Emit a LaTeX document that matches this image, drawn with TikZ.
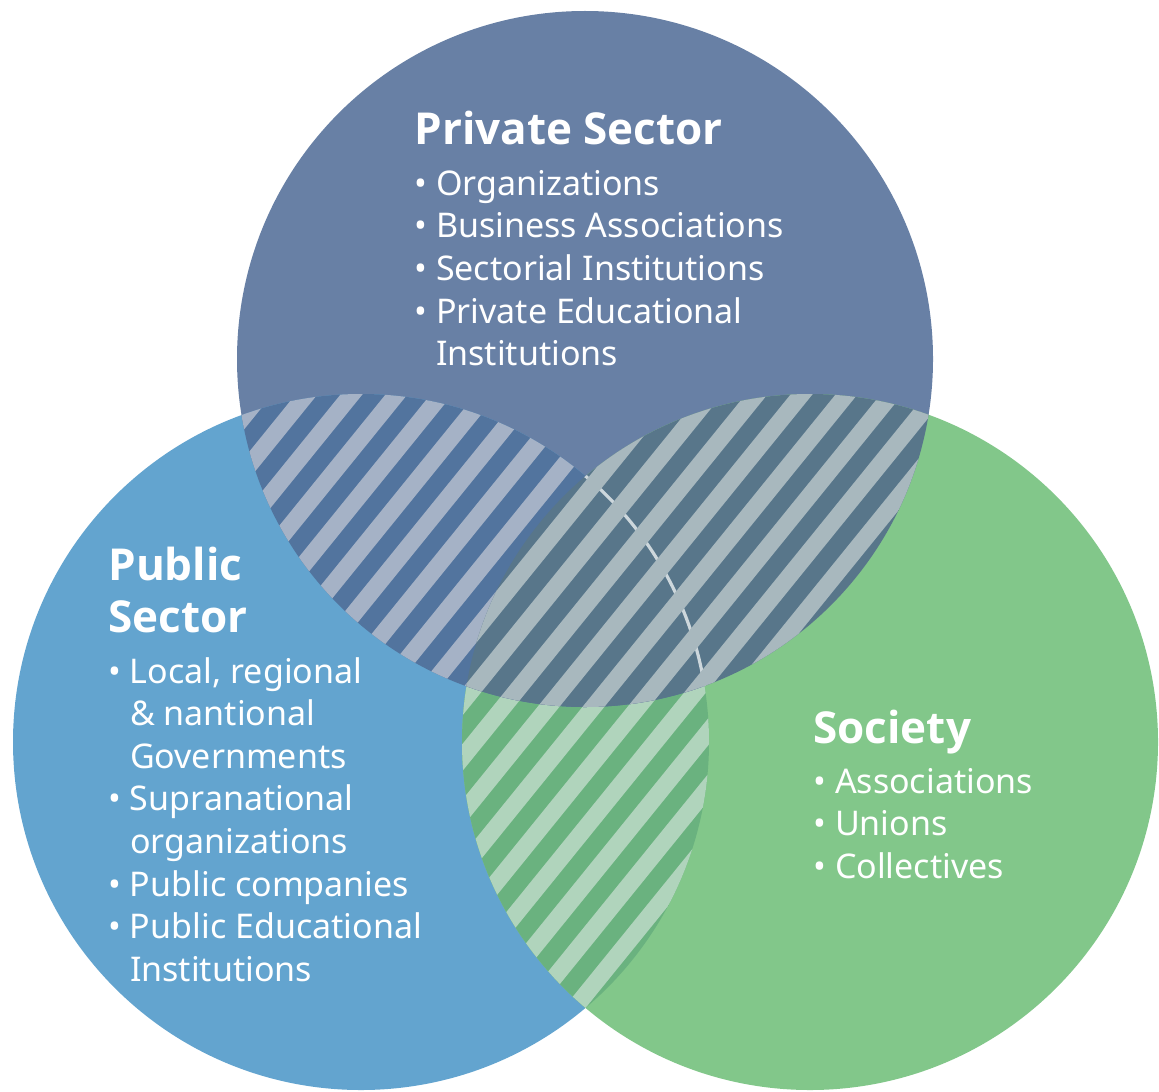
\documentclass[tikz,border=0pt]{standalone}
\usepackage{fontspec}
\setmainfont{Noto Sans}
\newfontfamily\headfont{Open Sans}
\definecolor{cPriv}{RGB}{104,128,165}
\definecolor{cPub} {RGB}{99,164,207}
\definecolor{cSoc} {RGB}{130,199,138}
\definecolor{cPrivPubDark} {RGB}{82,116,158}
\definecolor{cPrivPubLight}{RGB}{165,178,198}
\definecolor{cPrivSocDark} {RGB}{88,118,138}
\definecolor{cPrivSocLight}{RGB}{168,184,190}
\definecolor{cPubSocDark}  {RGB}{106,178,127}
\definecolor{cPubSocLight} {RGB}{176,212,188}
\definecolor{cSeam}        {RGB}{205,215,220}
\newcommand{\cont}{\hphantom{•\ }}

\begin{document}
\begin{tikzpicture}[
    x=0.5pt, y=-0.5pt,
    head/.style={anchor=base west, inner sep=0pt, text=white,
                 font=\fontsize{22}{26}\selectfont\headfont\bfseries},
    item/.style={anchor=base west, inner sep=0pt, text=white,
                 font=\fontsize{17}{20}\selectfont},
    stripe/.style={line width=8.5pt},
]
\useasboundingbox (0,0) rectangle (1159,1091);

% --- Circle centres
\coordinate (priv) at (585,359);
\coordinate (pub)  at (361,742);
\coordinate (soc)  at (810,742);

% --- The three sectors
\fill[cPriv] (priv) circle[radius=348];
\fill[cPub]  (pub)  circle[radius=348];
\fill[cSoc]  (soc)  circle[radius=348];

% --- Public / Society overlap
\begin{scope}
    \clip (pub) circle[radius=348];
    \clip (soc) circle[radius=348];
    \fill[cPubSocDark] (0,0) rectangle (1159,1091);
    \foreach \a in {-895,-850,...,1160}
        \draw[stripe, cPubSocLight] (\a,1100) -- ++(891,-1100);
\end{scope}

% --- Private / Public overlap
\begin{scope}
    \clip (priv) circle[radius=348];
    \clip (pub)  circle[radius=348];
    \fill[cPrivPubDark] (0,0) rectangle (1159,1091);
    \foreach \a in {-895,-850,...,1160}
        \draw[stripe, cPrivPubLight] (\a,1100) -- ++(891,-1100);
\end{scope}

% --- Private / Society overlap (covers the common centre)
\begin{scope}
    \clip (priv) circle[radius=348];
    \clip (soc)  circle[radius=348];
    \fill[cPrivSocDark] (0,0) rectangle (1159,1091);
    \draw[cSeam, line width=1.6pt] (pub) circle[radius=348];
    \foreach \a in {-895,-850,...,1160}
        \draw[stripe, cPrivSocLight] (\a,1100) -- ++(891,-1100);
\end{scope}

% --- Private sector text
\node[head] (privHead) at (414,145) {Private Sector};
\foreach \txt [count=\i] in {• Organizations, • Business Associations,
        • Sectorial Institutions, • Private Educational, \cont Institutions}
    \node[item] (privItem\i) at (414,{195+42.7*(\i-1)}) {\txt};

% --- Public sector text
\node[head] (pubHeadA) at (108,580) {Public};
\node[head] (pubHeadB) at (108,632) {Sector};
\foreach \txt [count=\i] in {{• Local, regional}, \cont\& nantional,
        \cont Governments, • Supranational, \cont organizations,
        • Public companies, • Public Educational, \cont Institutions}
    \node[item] (pubItem\i) at (108,{683+42.6*(\i-1)}) {\txt};

% --- Society text
\node[head] (socHead) at (813,743) {Society};
\foreach \txt [count=\i] in {• Associations, • Unions, • Collectives}
    \node[item] (socItem\i) at (813,{793+42.6*(\i-1)}) {\txt};
\end{tikzpicture}
\end{document}
